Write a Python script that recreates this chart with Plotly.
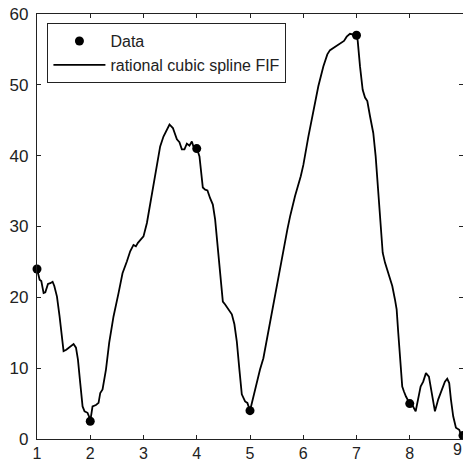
import plotly.graph_objects as go

# Interpolation data points
data_x = [1, 2, 4, 5, 7, 8, 9]
data_y = [24, 2.5, 41, 4, 57, 5, 0.5]

# Curve (rational cubic spline FIF)
fif_x = [1.000, 1.049, 1.081, 1.124, 1.156, 1.206, 1.250, 1.293, 1.325, 1.375,
         1.424, 1.469, 1.499, 1.550, 1.625, 1.687, 1.732, 1.769, 1.812, 1.856,
         1.893, 1.949, 1.987, 2.000,
         2.043, 2.107, 2.156, 2.188, 2.231, 2.295, 2.356, 2.437, 2.531, 2.606,
         2.689, 2.750, 2.812, 2.857, 2.895, 2.938, 3.000, 3.064, 3.126, 3.219,
         3.313, 3.375, 3.439, 3.488, 3.552, 3.627, 3.675, 3.720, 3.769, 3.814,
         3.863, 3.908, 3.938, 4.000,
         4.051, 4.077, 4.114, 4.158, 4.201, 4.251, 4.302, 4.345, 4.388, 4.439,
         4.490, 4.533, 4.595, 4.659, 4.707, 4.752, 4.801, 4.846, 4.908, 4.951,
         5.000,
         5.051, 5.113, 5.188, 5.251, 5.315, 5.377, 5.439, 5.503, 5.565, 5.627,
         5.702, 5.752, 5.846, 5.953, 6.002, 6.096, 6.189, 6.283, 6.377, 6.452,
         6.503, 6.565, 6.629, 6.690, 6.765, 6.816, 6.878, 7.000,
         7.023, 7.066, 7.116, 7.160, 7.203, 7.253, 7.315, 7.360, 7.398, 7.441,
         7.473, 7.492, 7.535, 7.597, 7.672, 7.722, 7.754, 7.784, 7.829, 7.859,
         7.891, 7.929, 8.000,
         8.047, 8.111, 8.159, 8.204, 8.253, 8.304, 8.360, 8.411, 8.473, 8.535,
         8.598, 8.660, 8.704, 8.741, 8.773, 8.816, 8.867, 8.929, 8.973, 9.000]
fif_y = [24.0, 22.5, 22.3, 20.6, 20.7, 21.9, 22.0, 22.2, 21.6, 20.1,
         17.3, 14.5, 12.4, 12.6, 13.1, 13.4, 12.9, 11.2, 7.9, 4.6,
         3.9, 3.7, 3.0, 2.5,
         4.6, 4.8, 5.1, 6.5, 7.0, 9.8, 13.6, 17.3, 20.6, 23.4,
         25.1, 26.5, 27.4, 27.2, 27.7, 28.1, 28.6, 30.5, 33.3, 37.6,
         41.3, 42.7, 43.7, 44.4, 43.9, 42.3, 41.9, 40.9, 40.9, 41.7,
         41.4, 42.0, 41.3, 41.1,
         39.9, 38.0, 35.5, 35.2, 35.1, 34.0, 33.1, 31.0, 27.7, 23.4,
         19.4, 19.0, 18.3, 17.6, 16.2, 13.8, 9.8, 6.3, 5.3, 5.1,
         4.0,
         5.6, 7.4, 9.8, 11.4, 14.0, 16.8, 19.4, 21.8, 24.4, 27.0,
         29.6, 31.4, 34.3, 37.1, 38.7, 42.7, 46.5, 49.8, 52.6, 54.3,
         54.9, 55.2, 55.5, 55.8, 56.2, 56.8, 57.2, 57.0,
         56.2, 52.6, 49.3, 48.2, 47.7, 45.6, 43.2, 39.9, 35.7, 31.4,
         28.1, 26.3, 24.9, 23.4, 21.6, 19.7, 18.3, 15.0, 10.7, 7.4,
         6.7, 6.0, 5.0,
         4.8, 3.9, 6.0, 7.4, 8.1, 9.3, 8.8, 6.5, 3.9, 5.6,
         7.0, 8.1, 8.5, 7.9, 5.6, 3.2, 1.6, 1.3, 0.4, 0.5]

x_ticks = [1, 2, 3, 4, 5, 6, 7, 8, 9]
y_ticks = [0, 10, 20, 30, 40, 50, 60]

FONT = "Liberation Sans, Arial, sans-serif"

fig = go.Figure()
fig.add_trace(go.Scatter(x=data_x, y=data_y, mode="markers", name="Data",
                         marker=dict(color="black", size=9), cliponaxis=False))
fig.add_trace(go.Scatter(x=fif_x, y=fif_y, mode="lines",
                         name="rational cubic spline FIF",
                         line=dict(color="black", width=1.8)))

axis_common = dict(showline=True, linecolor="#222", linewidth=1.2, mirror="ticks",
                   ticks="inside", ticklen=4, tickcolor="#222", showgrid=False,
                   zeroline=False, automargin=False)
fig.update_xaxes(range=[1, 9], tickvals=x_ticks[:-1], ticklabelstandoff=0,
                 tickfont=dict(family=FONT, size=16, color="#222"),
                 **axis_common)
fig.update_yaxes(range=[0, 60], tickvals=y_ticks, ticklabelstandoff=4,
                 tickfont=dict(family=FONT, size=17, color="#222"),
                 **axis_common)

# last x tick label sits at the right edge of the figure
fig.add_annotation(x=x_ticks[-1], y=0, xref="x", yref="paper",
                   text=str(x_ticks[-1]), showarrow=False,
                   xanchor="right", yanchor="top", yshift=-1, borderpad=0,
                   font=dict(family=FONT, size=16, color="#222"))
# inside tick at x=9 (hidden from tickvals above)
fig.add_shape(type="line", xref="x", yref="paper", x0=9, x1=9, y0=0, y1=0.01,
              line=dict(color="#222", width=1))

fig.update_layout(
    width=463, height=463,
    margin=dict(l=37, r=0, t=14, b=24),
    paper_bgcolor="white", plot_bgcolor="white",
    showlegend=True,
    legend=dict(x=0.024, y=0.979, xanchor="left", yanchor="top",
                bgcolor="white", bordercolor="#222", borderwidth=1.2,
                itemwidth=52, tracegroupgap=0,
                font=dict(family=FONT, size=16, color="#222")),
)

fig.write_html("out.html")
